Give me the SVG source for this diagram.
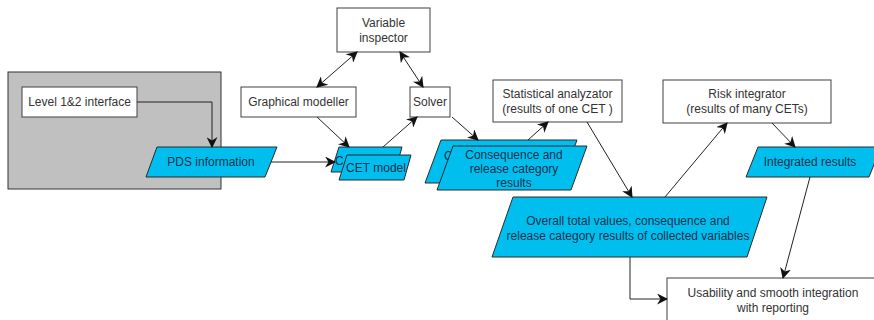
<svg xmlns="http://www.w3.org/2000/svg" width="874" height="320" viewBox="0 0 874 320">
  <defs>
    <marker id="arr" viewBox="0 0 10 10" refX="9" refY="5" markerWidth="11" markerHeight="11" markerUnits="userSpaceOnUse" orient="auto-start-reverse">
      <path d="M0,0 L10,5 L0,10 L3,5 Z" fill="#111"/>
    </marker>
    <style>
      text { font-family: "Liberation Sans", Arial, sans-serif; font-size: 12px; text-anchor: middle; }
      .box { fill: #ffffff; stroke: #404040; stroke-width: 1; }
      .data { fill: #00bfef; stroke: #2a2a2a; stroke-width: 1; }
      .t { fill: #333333; }
      .td { fill: #16314d; }
      .start { text-anchor: start; }
      .link { fill: none; stroke: #222; stroke-width: 1; marker-end: url(#arr); }
      .link2 { fill: none; stroke: #222; stroke-width: 1; marker-start: url(#arr); marker-end: url(#arr); }
    </style>
  </defs>

  <rect width="874" height="320" fill="#ffffff"/>

  <!-- grey container -->
  <g id="container">
    <rect x="8" y="72" width="213" height="117" fill="#c0c0c0" stroke="#333" stroke-width="1"/>
  </g>

  <g id="level-interface">
    <rect class="box" x="22" y="87" width="115" height="30"/>
    <text class="t" x="79.5" y="106">Level 1&amp;2 interface</text>
  </g>

  <g id="pds-information">
    <polygon class="data" points="157,147 277,147 265,177 146,177"/>
    <text class="td" x="211" y="166">PDS information</text>
  </g>

  <g id="variable-inspector">
    <rect class="box" x="337" y="8" width="93" height="44"/>
    <text class="t" x="383.5" y="27">Variable</text>
    <text class="t" x="383.5" y="42">inspector</text>
  </g>

  <g id="graphical-modeller">
    <rect class="box" x="241" y="87" width="115" height="30"/>
    <text class="t" x="298.5" y="106">Graphical modeller</text>
  </g>

  <g id="solver">
    <rect class="box" x="410" y="87" width="40" height="30"/>
    <text class="t" x="430" y="106">Solver</text>
  </g>

  <!-- stacked CET model shapes -->
  <g id="cet-model">
    <polygon class="data" points="339,147 402,147 395,172 331,172"/>
    <text class="td start" x="335" y="165">C</text>
    <polygon class="data" points="347,155 411,155 404,180 339,180"/>
    <text class="td" x="376" y="172">CET model</text>
  </g>

  <!-- stacked consequence result shapes -->
  <g id="consequence-results">
    <polygon class="data" points="441,140 577,140 561,183 425,183"/>
    <text class="td start" x="444" y="160">C</text>
    <polygon class="data" points="453,146 587,146 571,190 437,190"/>
    <text class="td" x="514" y="159">Consequence and</text>
    <text class="td" x="514" y="173">release category</text>
    <text class="td" x="514" y="187">results</text>
  </g>

  <g id="statistical-analyzator">
    <rect class="box" x="493" y="80" width="129" height="42"/>
    <text class="t" x="557.5" y="98">Statistical analyzator</text>
    <text class="t" x="557.5" y="113">(results of one CET )</text>
  </g>

  <g id="risk-integrator">
    <rect class="box" x="663" y="80" width="168" height="43"/>
    <text class="t" x="747" y="98">Risk integrator</text>
    <text class="t" x="747" y="113">(results of many CETs)</text>
  </g>

  <g id="integrated-results">
    <polygon class="data" points="758,147 881,147 869,177 746,177"/>
    <text class="td" x="810" y="166">Integrated results</text>
  </g>

  <g id="overall-values">
    <polygon class="data" points="513,197 767,197 747,257 492,257"/>
    <text class="td" x="628" y="225">Overall total values, consequence and</text>
    <text class="td" x="628" y="240">release category results of collected variables</text>
  </g>

  <g id="usability">
    <rect class="box" x="667" y="278" width="220" height="50"/>
    <text class="t" x="773" y="297">Usability and smooth integration</text>
    <text class="t" x="773" y="312">with reporting</text>
  </g>

  <!-- connectors -->
  <g id="connectors">
    <polyline class="link" points="137,102 212,102 212,147"/>
    <line class="link" x1="271" y1="162" x2="335" y2="162"/>
    <line class="link2" x1="317" y1="87" x2="357" y2="52"/>
    <line class="link2" x1="423" y1="87" x2="400" y2="52"/>
    <line class="link" x1="317" y1="117" x2="349" y2="147"/>
    <line class="link" x1="383" y1="147" x2="417" y2="117"/>
    <line class="link" x1="452" y1="117" x2="478" y2="140"/>
    <line class="link" x1="528" y1="140" x2="548" y2="122"/>
    <line class="link" x1="587" y1="122" x2="632" y2="197"/>
    <line class="link" x1="665" y1="197" x2="727" y2="123"/>
    <line class="link" x1="772" y1="123" x2="795" y2="147"/>
    <line class="link" x1="810" y1="177" x2="783" y2="278"/>
    <polyline class="link" points="630,257 630,299 667,299"/>
  </g>
</svg>
